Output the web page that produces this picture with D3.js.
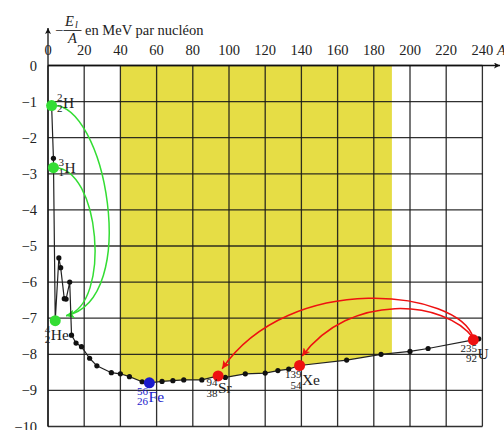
<!DOCTYPE html>
<html>
<head>
<meta charset="utf-8">
<script src="https://cdn.jsdelivr.net/npm/d3@7"></script>
<style>
  body { margin: 0; background: #fff; }
  text { font-family: "Liberation Serif", "DejaVu Serif", serif; }
</style>
</head>
<body>
<script>
// binding energy per nucleon curve
var massNumbers = [2, 3, 4, 6, 7, 9, 10, 12, 13, 15.5, 18.5, 23, 27, 35, 40, 45, 52, 56, 63, 69, 75, 85,
                   94, 98, 109, 120, 127, 133, 139, 165, 184, 200, 210, 235, 238];
var energies = [-1.11, -2.57, -7.07, -5.33, -5.6, -6.46, -6.47, -6.0, -7.47, -7.69, -7.79, -8.11, -8.32,
                -8.51, -8.54, -8.62, -8.76, -8.79, -8.75, -8.73, -8.71, -8.71, -8.6, -8.64, -8.54, -8.52,
                -8.45, -8.41, -8.31, -8.16, -8.0, -7.92, -7.84, -7.6, -7.57];

// labelled nuclides
var symbols = ["H", "H", "He", "Fe", "Sr", "Xe", "U"];
var nucA = [2, 3, 4, 56, 94, 139, 235];
var upperNums = ["2", "3", "4", "56", "94", "139", "235"];
var lowerNums = ["2", "1", "2", "26", "38", "54", "92"];
var nucE = [-1.11, -2.83, -7.07, -8.79, -8.6, -8.31, -7.6];
var nucKind = ["fusion", "fusion", "fusion", "iron", "fission", "fission", "fission"];

var xTicks = [0, 20, 40, 60, 80, 100, 120, 140, 160, 180, 200, 220, 240];
var xTickLabels = ["0", "20", "40", "60", "80", "100", "120", "140", "160", "180", "200", "220", "240"];
var yTicks = [0, -1, -2, -3, -4, -5, -6, -7, -8, -9, -10];
var yTickLabels = ["0", "\u22121", "\u22122", "\u22123", "\u22124", "\u22125", "\u22126", "\u22127", "\u22128", "\u22129", "\u221210"];

var yellowBand = [40, 190];
var greenTarget = [10, -6.93];

var colors = { fusion: "#33dd33", iron: "#1a1acc", fission: "#ee1111" };

var W = 504, H = 430;
var x = d3.scaleLinear().domain([0, 240]).range([48, 482.4]);
var y = d3.scaleLinear().domain([0, -10]).range([65.5, 426.5]);

var svg = d3.select("body").append("svg")
  .attr("width", W)
  .attr("height", H);

svg.append("rect").attr("width", W).attr("height", H).attr("fill", "#fff");

var defs = svg.append("defs");
function arrowMarker(id, color, w, h) {
  defs.append("marker")
    .attr("id", id)
    .attr("viewBox", "0 0 10 10")
    .attr("refX", 10).attr("refY", 5)
    .attr("markerUnits", "userSpaceOnUse")
    .attr("markerWidth", w).attr("markerHeight", h)
    .attr("orient", "auto")
    .append("path")
    .attr("d", "M0,0 L10,5 L0,10 L2.5,5 z")
    .attr("fill", color);
}
arrowMarker("arrAxis", "#111", 8, 6);
arrowMarker("arrGreen", colors.fusion, 10, 8);
arrowMarker("arrRed", colors.fission, 10, 8);

defs.append("clipPath").attr("id", "band")
  .append("rect")
  .attr("x", x(yellowBand[0]))
  .attr("y", 0)
  .attr("width", x(yellowBand[1]) - x(yellowBand[0]))
  .attr("height", H);

var pts = massNumbers.map(function (a, i) { return [a, energies[i]]; });

// yellow zone between 0 and the curve
svg.append("path")
  .datum(pts)
  .attr("clip-path", "url(#band)")
  .attr("fill", "#e6dd45")
  .attr("d", d3.area().x(function (d) { return x(d[0]); }).y0(y(0)).y1(function (d) { return y(d[1]); }));

// grid
var grid = svg.append("g").attr("stroke", "#1a1a1a").attr("stroke-width", 1.3).attr("stroke-opacity", 0.9);
grid.selectAll("line.v").data(xTicks).enter().append("line")
  .attr("x1", function (d) { return x(d); }).attr("x2", function (d) { return x(d); })
  .attr("y1", y(0)).attr("y2", y(-10));
grid.selectAll("line.h").data(yTicks).enter().append("line")
  .attr("x1", x(0)).attr("x2", x(240))
  .attr("y1", function (d) { return y(d); }).attr("y2", function (d) { return y(d); });

// axes with arrows
svg.append("line")
  .attr("x1", x(0)).attr("x2", 500).attr("y1", y(0)).attr("y2", y(0))
  .attr("stroke", "#111").attr("stroke-width", 1.3).attr("marker-end", "url(#arrAxis)");
svg.append("line")
  .attr("x1", x(0)).attr("x2", x(0)).attr("y1", y(-10)).attr("y2", 28)
  .attr("stroke", "#111").attr("stroke-width", 1.3).attr("marker-end", "url(#arrAxis)");

// tick labels
svg.selectAll("text.xt").data(xTicks).enter().append("text")
  .attr("x", function (d) { return x(d); })
  .attr("y", 55)
  .attr("text-anchor", "middle")
  .attr("font-size", 14.5).attr("fill", "#222")
  .text(function (d, i) { return xTickLabels[i]; });
svg.selectAll("text.yt").data(yTicks).enter().append("text")
  .attr("x", 37)
  .attr("y", function (d) { return y(d) + 5; })
  .attr("text-anchor", "end")
  .attr("font-size", 14.5).attr("fill", "#222")
  .text(function (d, i) { return yTickLabels[i]; });

// axis titles
var t = svg.append("g").attr("fill", "#222").attr("font-size", 14.5);
t.append("text").attr("x", 55).attr("y", 35).text("\u2212");
t.append("text").attr("x", 65).attr("y", 26).attr("font-style", "italic").text("E");
t.append("text").attr("x", 75).attr("y", 28).attr("font-style", "italic").attr("font-size", 10).text("l");
t.append("line").attr("x1", 63.5).attr("x2", 81.5).attr("y1", 30.5).attr("y2", 30.5)
  .attr("stroke", "#222").attr("stroke-width", 0.9);
t.append("text").attr("x", 68).attr("y", 43).attr("font-style", "italic").text("A");
t.append("text").attr("x", 85).attr("y", 34.5).text("en MeV par nucl\u00e9on");
t.append("text").attr("x", 497).attr("y", 55).attr("font-style", "italic").text("A");

// fusion arcs (green) and fission arcs (red)
function px(p) { return [x(p[0]), y(p[1])]; }
function bez(p0, c1, c2, p3) {
  var a = px(p0), b = px(c1), c = px(c2), d = px(p3);
  return "M" + a + " C" + b + " " + c + " " + d;
}
svg.append("path")
  .attr("d", bez([nucA[0], nucE[0]], [31.5, -0.96], [51.9, -6.5], greenTarget))
  .attr("fill", "none").attr("stroke", colors.fusion).attr("stroke-width", 1.5)
  .attr("marker-end", "url(#arrGreen)");
svg.append("path")
  .attr("d", bez([nucA[1], nucE[1]], [28.7, -2.76], [35.4, -6.63], greenTarget))
  .attr("fill", "none").attr("stroke", colors.fusion).attr("stroke-width", 1.5)
  .attr("marker-end", "url(#arrGreen)");

var srTip = [nucA[4] + 2.2, nucE[4] + 0.2];
var xeTip = [nucA[5] + 1.4, nucE[5] + 0.26];
svg.append("path")
  .attr("d", bez([nucA[6], nucE[6] + 0.05], [227.6, -6.22], [133.7, -5.66], srTip))
  .attr("fill", "none").attr("stroke", colors.fission).attr("stroke-width", 1.5)
  .attr("marker-end", "url(#arrRed)");
svg.append("path")
  .attr("d", bez([nucA[6], nucE[6] + 0.05], [219.3, -6.49], [166.8, -6.27], xeTip))
  .attr("fill", "none").attr("stroke", colors.fission).attr("stroke-width", 1.5)
  .attr("marker-end", "url(#arrRed)");

// the curve itself
svg.append("path")
  .datum(pts)
  .attr("fill", "none").attr("stroke", "#222").attr("stroke-width", 1.2)
  .attr("d", d3.line().x(function (d) { return x(d[0]); }).y(function (d) { return y(d[1]); }));
svg.selectAll("circle.pt").data(pts).enter().append("circle")
  .attr("cx", function (d) { return x(d[0]); })
  .attr("cy", function (d) { return y(d[1]); })
  .attr("r", 2.6).attr("fill", "#111");

// highlighted nuclides
svg.selectAll("circle.nuc").data(nucA).enter().append("circle")
  .attr("cx", function (d) { return x(d); })
  .attr("cy", function (d, i) { return y(nucE[i]); })
  .attr("r", 5.5)
  .attr("fill", function (d, i) { return colors[nucKind[i]]; });

// label offsets (symbol baseline-left relative to the point)
var labelOff = [[11, 2.5], [10.5, 5], [-5, 19], [-1.3, 18.7], [-0.7, 17.5], [1.8, 20], [3.7, 19]];
symbols.forEach(function (s, i) {
  var cx = x(nucA[i]) + labelOff[i][0], cy = y(nucE[i]) + labelOff[i][1];
  var col = nucKind[i] === "iron" ? colors.iron : "#222";
  var g = svg.append("g").attr("fill", col);
  g.append("text").attr("x", cx).attr("y", cy - 7).attr("text-anchor", "end").attr("font-size", 11).text(upperNums[i]);
  g.append("text").attr("x", cx).attr("y", cy + 3.5).attr("text-anchor", "end").attr("font-size", 11).text(lowerNums[i]);
  g.append("text").attr("x", cx + 0.5).attr("y", cy).attr("font-size", 15.5).text(s);
});
</script>
</body>
</html>
